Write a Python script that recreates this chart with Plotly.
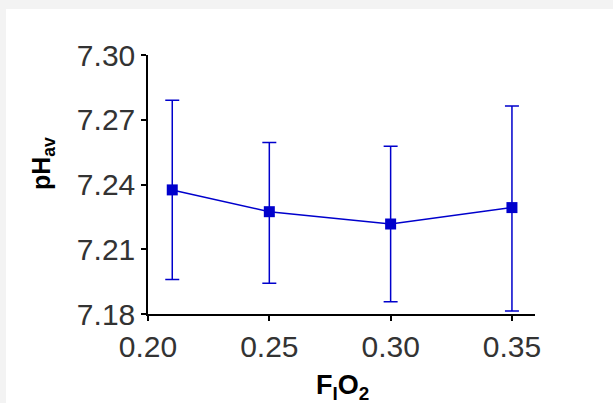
import plotly.graph_objects as go

fio2 = [0.21, 0.25, 0.30, 0.35]
ph_mean = [7.2375, 7.2274, 7.2217, 7.2293]
err_plus = [0.0415, 0.0321, 0.0360, 0.0471]
err_minus = [0.0415, 0.0331, 0.0360, 0.0479]

x_ticks = [0.20, 0.25, 0.30, 0.35]
x_tick_text = ["0.20", "0.25", "0.30", "0.35"]
y_ticks = [7.18, 7.21, 7.24, 7.27, 7.30]
y_tick_text = ["7.18", "7.21", "7.24", "7.27", "7.30"]

W, H = 613, 403
L, R, T, B = 148, 78, 55, 89
pw, ph = W - L - R, H - T - B

def px(xp):
    return (xp - L) / pw

def py(yp):
    return (H - B - yp) / ph

blue = "#0000cc"

fig = go.Figure()
fig.add_trace(go.Scatter(
    x=fio2, y=ph_mean, mode="lines+markers",
    line=dict(color=blue, width=1.5),
    marker=dict(symbol="square", size=11, color=blue),
    error_y=dict(type="data", symmetric=False, array=err_plus, arrayminus=err_minus,
                 color=blue, thickness=1.5, width=7),
    showlegend=False, cliponaxis=False,
))

axis_font = dict(family="Liberation Sans, Arial, sans-serif", size=30, color="#333333")
fig.update_layout(
    width=W, height=H,
    margin=dict(l=L, r=R, t=T, b=B, pad=0),
    paper_bgcolor="#f3f3f3",
    plot_bgcolor="white",
    xaxis=dict(range=[0.20, 0.3595], tickvals=x_ticks, ticktext=x_tick_text,
               showgrid=False, zeroline=False, showline=True, linecolor="black",
               linewidth=1.5, ticks="outside", ticklen=5, tickwidth=1.5, tickcolor="black",
               tickfont=axis_font),
    yaxis=dict(range=[7.18, 7.30], tickvals=y_ticks, ticktext=y_tick_text,
               showgrid=False, zeroline=False, showline=True, linecolor="black",
               linewidth=1.5, ticks="outside", ticklen=5, tickwidth=1.5, tickcolor="black",
               tickfont=axis_font),
    shapes=[dict(type="rect", xref="paper", yref="paper", layer="below",
                 x0=px(6), x1=px(W + 2), y0=py(9), y1=py(H + 2),
                 fillcolor="white", line=dict(width=0))],
    annotations=[
        dict(text="<b>pH<sub>av</sub></b>", xref="paper", yref="paper",
             x=px(43), y=py(164), xanchor="center", yanchor="middle", textangle=-90,
             showarrow=False, font=dict(family="Liberation Sans, Arial, sans-serif", size=25, color="black")),
        dict(text="<b>F<sub>I</sub>O<sub>2</sub></b>", xref="paper", yref="paper",
             x=px(342), y=py(387), xanchor="center", yanchor="middle",
             showarrow=False, font=dict(family="Liberation Sans, Arial, sans-serif", size=27, color="black")),
    ],
)

fig.write_html("out.html", config={"displayModeBar": False},
               post_script="document.body.style.margin='0';document.body.style.overflow='hidden';")
